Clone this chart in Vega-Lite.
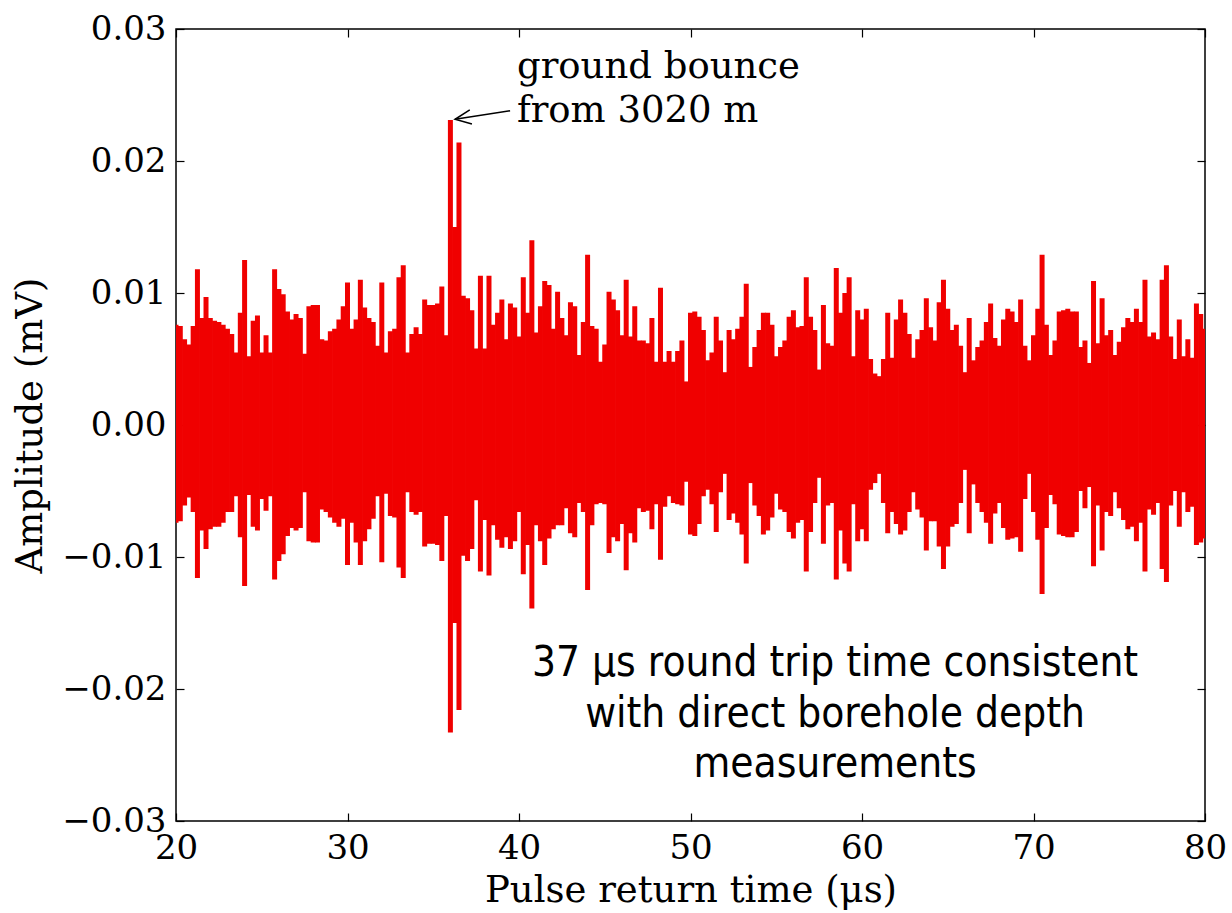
{
  "$schema": "https://vega.github.io/schema/vega-lite/v6.json",
  "width": 1029,
  "height": 792,
  "autosize": {"type": "none"},
  "padding": {"left": 176, "top": 29, "right": 27, "bottom": 92},
  "background": "white",
  "config": {
    "view": {"stroke": "black", "strokeWidth": 1.5},
    "axis": {
      "domain": false,
      "grid": false,
      "ticks": true,
      "tickColor": "black",
      "tickSize": -8,
      "tickWidth": 1.2,
      "labelFont": "DejaVu Serif",
      "labelFontSize": 34,
      "labelColor": "black",
      "labelOverlap": false,
      "labelFlush": false,
      "titleFont": "DejaVu Serif",
      "titleFontSize": 37,
      "titleFontWeight": "normal",
      "titleColor": "black"
    }
  },
  "layer": [
    {
      "data": {"values": [
        {"t":20.00,"hi":0.0076,"lo":-0.0074},{"t":20.25,"hi":0.0075,"lo":-0.0073},{"t":20.50,"hi":0.0065,"lo":-0.0061},{"t":20.75,"hi":0.0061,"lo":-0.0055},
        {"t":21.00,"hi":0.0075,"lo":-0.0066},{"t":21.25,"hi":0.0118,"lo":-0.0116},{"t":21.50,"hi":0.0081,"lo":-0.0080},{"t":21.75,"hi":0.0097,"lo":-0.0094},
        {"t":22.00,"hi":0.0081,"lo":-0.0079},{"t":22.25,"hi":0.0079,"lo":-0.0077},{"t":22.50,"hi":0.0078,"lo":-0.0077},{"t":22.75,"hi":0.0076,"lo":-0.0074},
        {"t":23.00,"hi":0.0073,"lo":-0.0066},{"t":23.25,"hi":0.0069,"lo":-0.0066},{"t":23.50,"hi":0.0055,"lo":-0.0054},{"t":23.75,"hi":0.0085,"lo":-0.0085},
        {"t":24.00,"hi":0.0125,"lo":-0.0122},{"t":24.25,"hi":0.0052,"lo":-0.0053},{"t":24.50,"hi":0.0079,"lo":-0.0077},{"t":24.75,"hi":0.0083,"lo":-0.0080},
        {"t":25.00,"hi":0.0055,"lo":-0.0056},{"t":25.25,"hi":0.0068,"lo":-0.0065},{"t":25.50,"hi":0.0055,"lo":-0.0054},{"t":25.75,"hi":0.0118,"lo":-0.0117},
        {"t":26.00,"hi":0.0103,"lo":-0.0103},{"t":26.25,"hi":0.0099,"lo":-0.0098},{"t":26.50,"hi":0.0086,"lo":-0.0084},{"t":26.75,"hi":0.0080,"lo":-0.0078},
        {"t":27.00,"hi":0.0084,"lo":-0.0080},{"t":27.25,"hi":0.0081,"lo":-0.0078},{"t":27.50,"hi":0.0054,"lo":-0.0051},{"t":27.75,"hi":0.0090,"lo":-0.0088},
        {"t":28.00,"hi":0.0091,"lo":-0.0089},{"t":28.25,"hi":0.0091,"lo":-0.0089},{"t":28.50,"hi":0.0065,"lo":-0.0064},{"t":28.75,"hi":0.0064,"lo":-0.0066},
        {"t":29.00,"hi":0.0071,"lo":-0.0070},{"t":29.25,"hi":0.0073,"lo":-0.0074},{"t":29.50,"hi":0.0080,"lo":-0.0077},{"t":29.75,"hi":0.0090,"lo":-0.0071},
        {"t":30.00,"hi":0.0108,"lo":-0.0106},{"t":30.25,"hi":0.0073,"lo":-0.0074},{"t":30.50,"hi":0.0080,"lo":-0.0089},{"t":30.75,"hi":0.0110,"lo":-0.0106},
        {"t":31.00,"hi":0.0089,"lo":-0.0088},{"t":31.25,"hi":0.0081,"lo":-0.0079},{"t":31.50,"hi":0.0078,"lo":-0.0071},{"t":31.75,"hi":0.0060,"lo":-0.0054},
        {"t":32.00,"hi":0.0108,"lo":-0.0104},{"t":32.25,"hi":0.0055,"lo":-0.0052},{"t":32.50,"hi":0.0071,"lo":-0.0069},{"t":32.75,"hi":0.0073,"lo":-0.0070},
        {"t":33.00,"hi":0.0112,"lo":-0.0108},{"t":33.25,"hi":0.0121,"lo":-0.0116},{"t":33.50,"hi":0.0055,"lo":-0.0051},{"t":33.75,"hi":0.0069,"lo":-0.0066},
        {"t":34.00,"hi":0.0074,"lo":-0.0068},{"t":34.25,"hi":0.0069,"lo":-0.0066},{"t":34.50,"hi":0.0095,"lo":-0.0092},{"t":34.75,"hi":0.0091,"lo":-0.0090},
        {"t":35.00,"hi":0.0091,"lo":-0.0090},{"t":35.25,"hi":0.0092,"lo":-0.0091},{"t":35.50,"hi":0.0105,"lo":-0.0103},{"t":35.75,"hi":0.0068,"lo":-0.0069},
        {"t":36.00,"hi":0.0231,"lo":-0.0233},{"t":36.25,"hi":0.0150,"lo":-0.0150},{"t":36.50,"hi":0.0214,"lo":-0.0216},{"t":36.75,"hi":0.0098,"lo":-0.0099},
        {"t":37.00,"hi":0.0096,"lo":-0.0103},{"t":37.25,"hi":0.0087,"lo":-0.0094},{"t":37.50,"hi":0.0058,"lo":-0.0057},{"t":37.75,"hi":0.0113,"lo":-0.0111},
        {"t":38.00,"hi":0.0058,"lo":-0.0072},{"t":38.25,"hi":0.0113,"lo":-0.0114},{"t":38.50,"hi":0.0076,"lo":-0.0076},{"t":38.75,"hi":0.0085,"lo":-0.0087},
        {"t":39.00,"hi":0.0095,"lo":-0.0093},{"t":39.25,"hi":0.0065,"lo":-0.0085},{"t":39.50,"hi":0.0092,"lo":-0.0094},{"t":39.75,"hi":0.0089,"lo":-0.0088},
        {"t":40.00,"hi":0.0067,"lo":-0.0066},{"t":40.25,"hi":0.0112,"lo":-0.0113},{"t":40.50,"hi":0.0085,"lo":-0.0091},{"t":40.75,"hi":0.0140,"lo":-0.0139},
        {"t":41.00,"hi":0.0070,"lo":-0.0076},{"t":41.25,"hi":0.0090,"lo":-0.0088},{"t":41.50,"hi":0.0109,"lo":-0.0106},{"t":41.75,"hi":0.0106,"lo":-0.0086},
        {"t":42.00,"hi":0.0073,"lo":-0.0079},{"t":42.25,"hi":0.0101,"lo":-0.0076},{"t":42.50,"hi":0.0081,"lo":-0.0076},{"t":42.75,"hi":0.0068,"lo":-0.0063},
        {"t":43.00,"hi":0.0093,"lo":-0.0082},{"t":43.25,"hi":0.0090,"lo":-0.0085},{"t":43.50,"hi":0.0053,"lo":-0.0059},{"t":43.75,"hi":0.0078,"lo":-0.0066},
        {"t":44.00,"hi":0.0129,"lo":-0.0125},{"t":44.25,"hi":0.0075,"lo":-0.0076},{"t":44.50,"hi":0.0073,"lo":-0.0060},{"t":44.75,"hi":0.0048,"lo":-0.0059},
        {"t":45.00,"hi":0.0061,"lo":-0.0060},{"t":45.25,"hi":0.0101,"lo":-0.0097},{"t":45.50,"hi":0.0095,"lo":-0.0085},{"t":45.75,"hi":0.0087,"lo":-0.0088},
        {"t":46.00,"hi":0.0068,"lo":-0.0075},{"t":46.25,"hi":0.0110,"lo":-0.0110},{"t":46.50,"hi":0.0067,"lo":-0.0082},{"t":46.75,"hi":0.0090,"lo":-0.0089},
        {"t":47.00,"hi":0.0064,"lo":-0.0063},{"t":47.25,"hi":0.0064,"lo":-0.0066},{"t":47.50,"hi":0.0062,"lo":-0.0065},{"t":47.75,"hi":0.0081,"lo":-0.0079},
        {"t":48.00,"hi":0.0048,"lo":-0.0060},{"t":48.25,"hi":0.0104,"lo":-0.0102},{"t":48.50,"hi":0.0048,"lo":-0.0062},{"t":48.75,"hi":0.0056,"lo":-0.0054},
        {"t":49.00,"hi":0.0048,"lo":-0.0059},{"t":49.25,"hi":0.0056,"lo":-0.0060},{"t":49.50,"hi":0.0064,"lo":-0.0061},{"t":49.75,"hi":0.0033,"lo":-0.0043},
        {"t":50.00,"hi":0.0085,"lo":-0.0083},{"t":50.25,"hi":0.0086,"lo":-0.0084},{"t":50.50,"hi":0.0082,"lo":-0.0075},{"t":50.75,"hi":0.0072,"lo":-0.0054},
        {"t":51.00,"hi":0.0049,"lo":-0.0049},{"t":51.25,"hi":0.0055,"lo":-0.0060},{"t":51.50,"hi":0.0082,"lo":-0.0081},{"t":51.75,"hi":0.0064,"lo":-0.0051},
        {"t":52.00,"hi":0.0040,"lo":-0.0037},{"t":52.25,"hi":0.0072,"lo":-0.0072},{"t":52.50,"hi":0.0065,"lo":-0.0067},{"t":52.75,"hi":0.0073,"lo":-0.0074},
        {"t":53.00,"hi":0.0082,"lo":-0.0083},{"t":53.25,"hi":0.0107,"lo":-0.0105},{"t":53.50,"hi":0.0044,"lo":-0.0044},{"t":53.75,"hi":0.0059,"lo":-0.0061},
        {"t":54.00,"hi":0.0072,"lo":-0.0069},{"t":54.25,"hi":0.0085,"lo":-0.0083},{"t":54.50,"hi":0.0085,"lo":-0.0080},{"t":54.75,"hi":0.0076,"lo":-0.0070},
        {"t":55.00,"hi":0.0052,"lo":-0.0052},{"t":55.25,"hi":0.0059,"lo":-0.0064},{"t":55.50,"hi":0.0064,"lo":-0.0066},{"t":55.75,"hi":0.0082,"lo":-0.0081},
        {"t":56.00,"hi":0.0087,"lo":-0.0086},{"t":56.25,"hi":0.0074,"lo":-0.0074},{"t":56.50,"hi":0.0075,"lo":-0.0072},{"t":56.75,"hi":0.0112,"lo":-0.0111},
        {"t":57.00,"hi":0.0082,"lo":-0.0081},{"t":57.25,"hi":0.0072,"lo":-0.0059},{"t":57.50,"hi":0.0042,"lo":-0.0040},{"t":57.75,"hi":0.0091,"lo":-0.0090},
        {"t":58.00,"hi":0.0062,"lo":-0.0061},{"t":58.25,"hi":0.0060,"lo":-0.0059},{"t":58.50,"hi":0.0119,"lo":-0.0117},{"t":58.75,"hi":0.0085,"lo":-0.0080},
        {"t":59.00,"hi":0.0100,"lo":-0.0105},{"t":59.25,"hi":0.0112,"lo":-0.0111},{"t":59.50,"hi":0.0052,"lo":-0.0060},{"t":59.75,"hi":0.0087,"lo":-0.0088},
        {"t":60.00,"hi":0.0080,"lo":-0.0079},{"t":60.25,"hi":0.0088,"lo":-0.0088},{"t":60.50,"hi":0.0050,"lo":-0.0049},{"t":60.75,"hi":0.0039,"lo":-0.0044},
        {"t":61.00,"hi":0.0037,"lo":-0.0037},{"t":61.25,"hi":0.0050,"lo":-0.0059},{"t":61.50,"hi":0.0085,"lo":-0.0082},{"t":61.75,"hi":0.0051,"lo":-0.0066},
        {"t":62.00,"hi":0.0080,"lo":-0.0075},{"t":62.25,"hi":0.0095,"lo":-0.0083},{"t":62.50,"hi":0.0085,"lo":-0.0080},{"t":62.75,"hi":0.0069,"lo":-0.0066},
        {"t":63.00,"hi":0.0051,"lo":-0.0051},{"t":63.25,"hi":0.0065,"lo":-0.0064},{"t":63.50,"hi":0.0072,"lo":-0.0070},{"t":63.75,"hi":0.0096,"lo":-0.0095},
        {"t":64.00,"hi":0.0074,"lo":-0.0073},{"t":64.25,"hi":0.0064,"lo":-0.0073},{"t":64.50,"hi":0.0093,"lo":-0.0092},{"t":64.75,"hi":0.0110,"lo":-0.0109},
        {"t":65.00,"hi":0.0088,"lo":-0.0092},{"t":65.25,"hi":0.0072,"lo":-0.0077},{"t":65.50,"hi":0.0076,"lo":-0.0075},{"t":65.75,"hi":0.0060,"lo":-0.0059},
        {"t":66.00,"hi":0.0040,"lo":-0.0034},{"t":66.25,"hi":0.0081,"lo":-0.0082},{"t":66.50,"hi":0.0049,"lo":-0.0045},{"t":66.75,"hi":0.0059,"lo":-0.0059},
        {"t":67.00,"hi":0.0064,"lo":-0.0066},{"t":67.25,"hi":0.0078,"lo":-0.0074},{"t":67.50,"hi":0.0092,"lo":-0.0090},{"t":67.75,"hi":0.0066,"lo":-0.0067},
        {"t":68.00,"hi":0.0060,"lo":-0.0059},{"t":68.25,"hi":0.0080,"lo":-0.0078},{"t":68.50,"hi":0.0088,"lo":-0.0087},{"t":68.75,"hi":0.0086,"lo":-0.0086},
        {"t":69.00,"hi":0.0078,"lo":-0.0085},{"t":69.25,"hi":0.0095,"lo":-0.0096},{"t":69.50,"hi":0.0060,"lo":-0.0056},{"t":69.75,"hi":0.0049,"lo":-0.0037},
        {"t":70.00,"hi":0.0068,"lo":-0.0066},{"t":70.25,"hi":0.0088,"lo":-0.0087},{"t":70.50,"hi":0.0129,"lo":-0.0128},{"t":70.75,"hi":0.0076,"lo":-0.0078},
        {"t":71.00,"hi":0.0053,"lo":-0.0053},{"t":71.25,"hi":0.0064,"lo":-0.0060},{"t":71.50,"hi":0.0086,"lo":-0.0083},{"t":71.75,"hi":0.0087,"lo":-0.0084},
        {"t":72.00,"hi":0.0088,"lo":-0.0085},{"t":72.25,"hi":0.0086,"lo":-0.0085},{"t":72.50,"hi":0.0086,"lo":-0.0081},{"t":72.75,"hi":0.0059,"lo":-0.0050},
        {"t":73.00,"hi":0.0064,"lo":-0.0063},{"t":73.25,"hi":0.0047,"lo":-0.0047},{"t":73.50,"hi":0.0109,"lo":-0.0107},{"t":73.75,"hi":0.0062,"lo":-0.0061},
        {"t":74.00,"hi":0.0096,"lo":-0.0095},{"t":74.25,"hi":0.0068,"lo":-0.0066},{"t":74.50,"hi":0.0072,"lo":-0.0069},{"t":74.75,"hi":0.0053,"lo":-0.0051},
        {"t":75.00,"hi":0.0063,"lo":-0.0063},{"t":75.25,"hi":0.0074,"lo":-0.0072},{"t":75.50,"hi":0.0081,"lo":-0.0079},{"t":75.75,"hi":0.0078,"lo":-0.0077},
        {"t":76.00,"hi":0.0088,"lo":-0.0088},{"t":76.25,"hi":0.0078,"lo":-0.0074},{"t":76.50,"hi":0.0110,"lo":-0.0111},{"t":76.75,"hi":0.0067,"lo":-0.0064},
        {"t":77.00,"hi":0.0070,"lo":-0.0068},{"t":77.25,"hi":0.0065,"lo":-0.0059},{"t":77.50,"hi":0.0110,"lo":-0.0109},{"t":77.75,"hi":0.0121,"lo":-0.0119},
        {"t":78.00,"hi":0.0067,"lo":-0.0061},{"t":78.25,"hi":0.0050,"lo":-0.0050},{"t":78.50,"hi":0.0080,"lo":-0.0077},{"t":78.75,"hi":0.0052,"lo":-0.0051},
        {"t":79.00,"hi":0.0065,"lo":-0.0066},{"t":79.25,"hi":0.0051,"lo":-0.0062},{"t":79.50,"hi":0.0092,"lo":-0.0091},{"t":79.75,"hi":0.0084,"lo":-0.0089},
        {"t":80.00,"hi":0.0073,"lo":-0.0086}
      ]},
      "mark": {"type": "rule", "color": "#f00000", "strokeWidth": 5, "clip": true},
      "encoding": {
        "x": {
          "field": "t", "type": "quantitative",
          "scale": {"domain": [20, 80], "nice": false, "zero": false},
          "axis": {"orient": "bottom", "values": [20, 30, 40, 50, 60, 70, 80], "title": "Pulse return time (μs)", "labelPadding": 18, "titlePadding": 7}
        },
        "y": {
          "field": "hi", "type": "quantitative",
          "scale": {"domain": [-0.03, 0.03], "nice": false, "zero": false},
          "axis": {"orient": "left", "values": [-0.03, -0.02, -0.01, 0, 0.01, 0.02, 0.03], "format": ".2f", "title": "Amplitude (mV)", "labelPadding": 18, "titlePadding": 12}
        },
        "y2": {"field": "lo"}
      }
    },
    {
      "data": {"values": [
        {"t": 39.88, "v": 0.02627, "label": "ground bounce"},
        {"t": 39.88, "v": 0.02298, "label": "from 3020 m"}
      ]},
      "mark": {"type": "text", "align": "left", "baseline": "alphabetic", "font": "DejaVu Serif", "fontSize": 37, "color": "black"},
      "encoding": {
        "x": {"field": "t", "type": "quantitative", "scale": {"domain": [20, 80], "nice": false, "zero": false},
              "axis": {"orient": "top", "values": [20, 30, 40, 50, 60, 70, 80], "labels": false, "title": null}},
        "y": {"field": "v", "type": "quantitative", "scale": {"domain": [-0.03, 0.03], "nice": false, "zero": false},
              "axis": {"orient": "right", "values": [-0.03, -0.02, -0.01, 0, 0.01, 0.02, 0.03], "labels": false, "title": null}},
        "text": {"field": "label", "type": "nominal"}
      }
    },
    {
      "data": {"values": [{"t": 39.48, "v": 0.0238, "t2": 36.27, "v2": 0.02316}]},
      "mark": {"type": "rule", "color": "black", "strokeWidth": 1.5},
      "encoding": {
        "x": {"field": "t", "type": "quantitative", "axis": null},
        "x2": {"field": "t2"},
        "y": {"field": "v", "type": "quantitative", "axis": null},
        "y2": {"field": "v2"}
      }
    },
    {
      "data": {"values": [{"t": 36.27, "v": 0.02316}]},
      "mark": {"type": "point", "shape": "M 2 -0.9 L 0 0 L 2 0.9", "filled": false, "stroke": "black", "strokeWidth": 1.5, "size": 256, "angle": 351.4, "opacity": 1},
      "encoding": {
        "x": {"field": "t", "type": "quantitative", "axis": null},
        "y": {"field": "v", "type": "quantitative", "axis": null}
      }
    },
    {
      "data": {"values": [
        {"t": 58.43, "v": -0.0190, "label": "37 μs round trip time consistent"},
        {"t": 58.43, "v": -0.02288, "label": "with direct borehole depth"},
        {"t": 58.43, "v": -0.02667, "label": "measurements"}
      ]},
      "mark": {"type": "text", "align": "center", "baseline": "alphabetic", "font": "DejaVu Sans Condensed, Liberation Sans Narrow, sans-serif", "fontSize": 42, "color": "black"},
      "encoding": {
        "x": {"field": "t", "type": "quantitative", "axis": null},
        "y": {"field": "v", "type": "quantitative", "axis": null},
        "text": {"field": "label", "type": "nominal"}
      }
    }
  ]
}
